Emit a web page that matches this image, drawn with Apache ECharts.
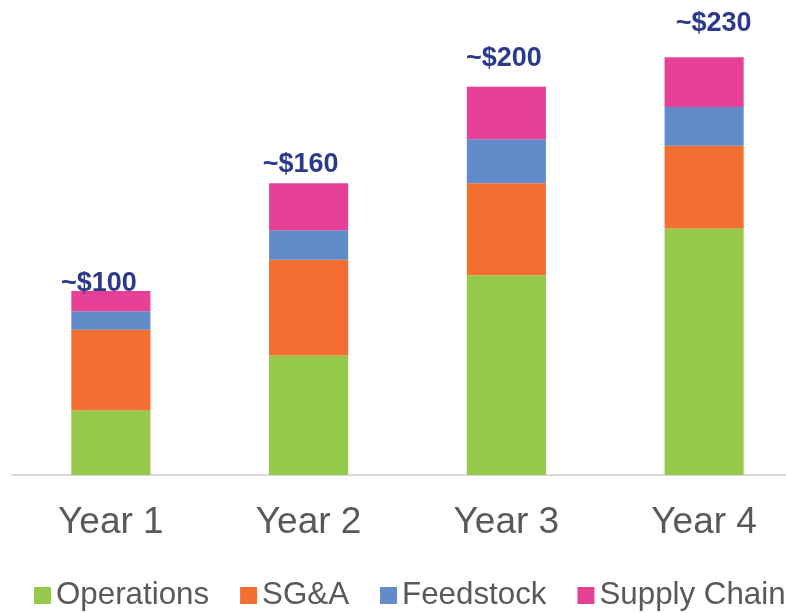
<!DOCTYPE html>
<html>
<head>
<meta charset="utf-8">
<script src="https://cdn.jsdelivr.net/npm/echarts@6/dist/echarts.min.js"></script>
<style>
html,body{margin:0;padding:0;background:#fff;}
#chart{width:786px;height:613px;}
</style>
</head>
<body>
<div id="chart"></div>
<script>
const categories = ['Year 1', 'Year 2', 'Year 3', 'Year 4'];
const seriesNames = ['Operations', 'SG&A', 'Feedstock', 'Supply Chain'];
const operations = [35, 65, 108.5, 134];
const sga = [44, 52, 50, 45];
const feedstock = [10, 16, 24, 21];
const supplyChain = [11, 25.5, 28.5, 27];
const totalLabels = ['~$100', '~$160', '~$200', '~$230'];

const colors = ['#95C94A', '#F26E31', '#618CC9', '#E74197'];
const labelOffsets = [[-12, 6], [-8, -5], [-2.5, -15], [9.5, -20]];
const font = "'Liberation Sans', Arial, sans-serif";

const chart = echarts.init(document.getElementById('chart'));
const values = [operations, sga, feedstock, supplyChain];

const series = seriesNames.map((name, i) => ({
  name: name,
  type: 'bar',
  stack: 'total',
  barWidth: '40%',
  itemStyle: { color: colors[i] },
  data: values[i].map((v, j) => {
    if (i !== values.length - 1) return v;
    return {
      value: v,
      label: {
        show: true,
        position: 'top',
        distance: 0,
        offset: labelOffsets[j],
        formatter: totalLabels[j],
        color: '#2B3A8C',
        fontWeight: 'bold',
        fontSize: 27,
        lineHeight: 27,
        fontFamily: font
      }
    };
  })
}));

chart.setOption({
  animation: false,
  color: colors,
  grid: { left: 12, right: -17, top: 15, bottom: 138, containLabel: false, outerBoundsMode: 'none' },
  xAxis: {
    type: 'category',
    data: categories,
    axisLine: { lineStyle: { color: '#D9D9D9', width: 2 } },
    axisTick: { show: false },
    axisLabel: { color: '#595959', fontSize: 37, fontFamily: font, margin: 29 }
  },
  yAxis: {
    type: 'value',
    min: 0,
    max: 250,
    show: false,
    splitLine: { show: false }
  },
  legend: {
    left: 29,
    top: 575,
    width: 1000,
    itemWidth: 17,
    itemHeight: 17,
    itemGap: 31,
    icon: 'rect',
    textStyle: { color: '#595959', fontSize: 31.3, fontFamily: font }
  },
  series: series
});
</script>
</body>
</html>
